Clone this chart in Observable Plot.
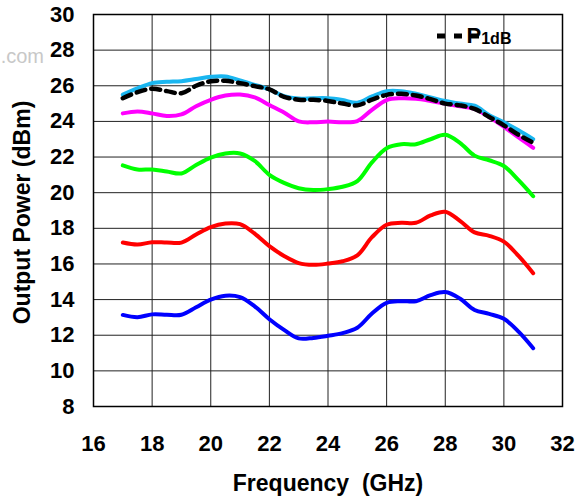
<!DOCTYPE html>
<html><head><meta charset="utf-8">
<script src="https://cdn.jsdelivr.net/npm/d3@7"></script>
<script src="https://cdn.jsdelivr.net/npm/@observablehq/plot@0.6"></script>
<style>body{margin:0;background:#fff}</style>
</head><body><div id="chart"></div>
<script>
const freq = [17,17.5,18,18.5,19,19.5,20,20.5,21,21.5,22,22.5,23,23.5,24,24.5,25,25.5,26,26.5,27,27.5,28,28.5,29,29.5,30,30.5,31];
const blueVals = [13.14,13.01,13.17,13.15,13.15,13.57,14.0,14.22,14.14,13.62,12.9,12.3,11.82,11.85,11.97,12.12,12.42,13.22,13.82,13.91,13.91,14.25,14.42,14.06,13.42,13.2,12.92,12.2,11.27];
const redVals = [17.2,17.09,17.22,17.2,17.2,17.65,18.07,18.27,18.23,17.7,17.0,16.45,16.05,15.95,16.02,16.15,16.48,17.5,18.2,18.31,18.31,18.72,18.93,18.42,17.77,17.58,17.25,16.45,15.48];
const greenVals = [21.53,21.3,21.3,21.19,21.08,21.55,21.97,22.2,22.2,21.78,21.0,20.55,20.25,20.15,20.2,20.33,20.65,21.7,22.5,22.72,22.72,23.0,23.25,22.8,22.08,21.82,21.5,20.7,19.8];
const magentaVals = [24.45,24.56,24.45,24.3,24.39,24.85,25.21,25.45,25.51,25.35,24.92,24.5,24.0,23.95,23.99,23.95,24.02,24.65,25.2,25.3,25.27,25.15,25.0,24.85,24.7,24.25,23.7,23.1,22.52];
const cyanVals = [25.5,25.85,26.15,26.22,26.26,26.38,26.5,26.52,26.3,26.05,25.8,25.42,25.28,25.3,25.3,25.2,25.05,25.4,25.7,25.7,25.55,25.35,25.15,25.0,24.88,24.35,23.95,23.5,23.0];
const p1dbVals = [25.3,25.64,25.83,25.7,25.58,26.0,26.25,26.28,26.15,25.98,25.8,25.38,25.22,25.21,25.15,25.0,24.9,25.22,25.49,25.55,25.45,25.25,25.0,24.9,24.7,24.25,23.78,23.25,22.8];
const xTicks = [16,18,20,22,24,26,28,30,32];
const yTicks = [8,10,12,14,16,18,20,22,24,26,28,30];
const xTitle = "Frequency  (GHz)";
const yTitle = "Output Power (dBm)";
const legendLabel = "P";
const legendSub = "1dB";

const series = [
  {name:"blue", color:"#0000ff", values:blueVals},
  {name:"red", color:"#ff0000", values:redVals},
  {name:"green", color:"#00ff00", values:greenVals},
  {name:"magenta", color:"#ff00ff", values:magentaVals},
  {name:"cyan", color:"#1ab6f0", values:cyanVals}
];
const toRows = vals => vals.map((v,i) => ({f:freq[i], p:v}));

const font = "'Liberation Sans', Arial, sans-serif";
const chart = Plot.plot({
  width:578, height:504,
  marginLeft:93, marginRight:16, marginTop:14, marginBottom:98,
  style:{fontFamily:font, fontWeight:"bold", background:"#fff", color:"#000"},
  x:{domain:[16,32]},
  y:{domain:[8,30]},
  marks:[
    Plot.gridX(xTicks,{stroke:"#222", strokeOpacity:1, strokeWidth:1}),
    Plot.gridY(yTicks,{stroke:"#222", strokeOpacity:1, strokeWidth:1}),
    Plot.frame({stroke:"#000", strokeWidth:1.5}),
    Plot.axisX(xTicks,{tickSize:0, tickPadding:29, fontSize:22, label:null, fill:"#000"}),
    Plot.axisY(yTicks,{tickSize:0, tickPadding:19, fontSize:22, label:null, fill:"#000"}),
    ...series.map(s => Plot.line(toRows(s.values),{x:"f", y:"p", stroke:s.color, strokeWidth:4, curve:"catmull-rom"})),
    Plot.line(toRows(p1dbVals),{x:"f", y:"p", stroke:"#000", strokeWidth:4.5, strokeDasharray:"9,6", curve:"catmull-rom"}),
    Plot.text([xTitle],{text:d=>d, frameAnchor:"bottom", dy:84, fontSize:23, fill:"#000"}),
    Plot.text([yTitle],{text:d=>d, frameAnchor:"left", textAnchor:"middle", dx:-71, dy:2, rotate:-90, fontSize:23, fill:"#000"})
  ]
});
document.getElementById("chart").appendChild(chart);

const svg = d3.select(chart);
// watermark
svg.append("text").attr("x",44).attr("y",63).attr("text-anchor","end")
  .attr("font-family",font).attr("font-weight","normal").attr("font-size",20)
  .attr("fill","#c8c8c8").text(".com");
// legend
const lg = svg.append("g");
lg.append("line").attr("x1",437).attr("x2",481).attr("y1",36).attr("y2",36)
  .attr("stroke","#000").attr("stroke-width",5).attr("stroke-dasharray","8,9");
const t = lg.append("text").attr("x",489).attr("y",43).attr("font-family",font)
  .attr("font-weight","bold").attr("font-size",22).attr("fill","#000");
t.append("tspan").text(legendLabel);
t.append("tspan").attr("font-size",16).attr("dy",1).text(legendSub);
</script>
</body></html>
